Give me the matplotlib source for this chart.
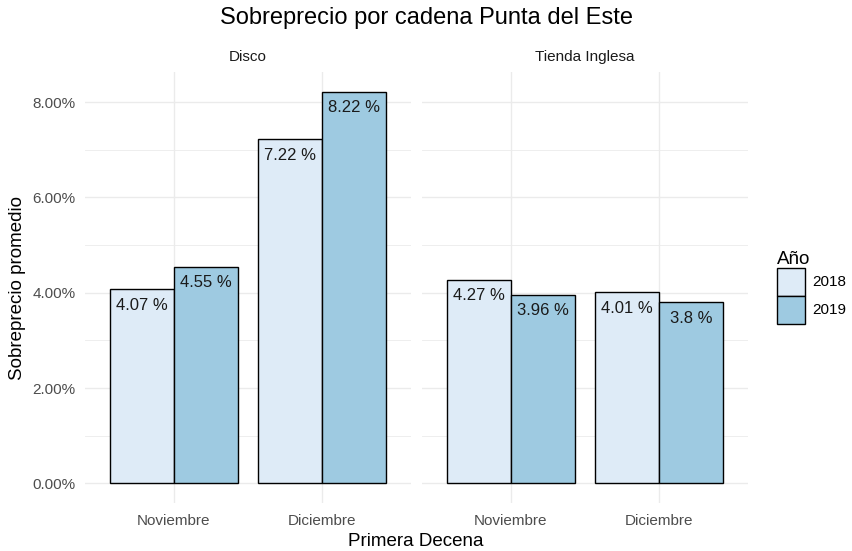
import numpy as np
import matplotlib
matplotlib.use("Agg")
import matplotlib.pyplot as plt
from matplotlib.patches import Patch
from matplotlib.ticker import FuncFormatter, MultipleLocator

plt.rcParams['font.family'] = ['Liberation Sans', 'DejaVu Sans']

# data
cadenas = ["Disco", "Tienda Inglesa"]
decenas = ["Noviembre", "Diciembre"]
anios = ["2018", "2019"]
disco_2018 = [4.07, 7.22]
disco_2019 = [4.55, 8.22]
ti_2018 = [4.27, 4.01]
ti_2019 = [3.96, 3.8]
valores = {"Disco": (disco_2018, disco_2019),
           "Tienda Inglesa": (ti_2018, ti_2019)}
colores = ["#DEEBF7", "#9ECAE1"]

W, H = 853, 551
fig = plt.figure(figsize=(W / 100, H / 100), dpi=100)

def box(x0, y0, x1, y1):
    return [x0 / W, 1 - y1 / H, (x1 - x0) / W, (y1 - y0) / H]

paneles = [box(85, 72, 411, 503), box(422, 72, 748, 503)]
ancho = 0.43
x = np.arange(1, len(decenas) + 1)

for i, cad in enumerate(cadenas):
    ax = fig.add_axes(paneles[i])
    for j, anio in enumerate(anios):
        vals = valores[cad][j]
        pos = x + (j - 0.5) * ancho
        ax.bar(pos, vals, width=ancho, color=colores[j], edgecolor="black",
               linewidth=1.0, zorder=3)
        for p, v in zip(pos, vals):
            ax.annotate(f"{v:g} %", (p, v), xytext=(0, -11.5), textcoords="offset points",
                        ha="center", va="center", fontsize=12, color="#1a1a1a", zorder=4)
    ax.set_xlim(0.4, 2.6)
    ax.set_ylim(-0.411, 8.631)
    ax.set_xticks(x)
    ax.set_xticklabels(decenas)
    ax.yaxis.set_major_locator(MultipleLocator(2))
    ax.yaxis.set_minor_locator(MultipleLocator(1))
    ax.yaxis.set_major_formatter(FuncFormatter(lambda v, _: f"{v:.2f}%"))
    ax.grid(which="major", color="#EBEBEB", linewidth=1.0, zorder=0)
    ax.grid(which="minor", axis="y", color="#EBEBEB", linewidth=0.6, zorder=0)
    ax.tick_params(which="both", length=0, labelsize=11, labelcolor="#4D4D4D")
    ax.tick_params(axis="x", pad=8)
    ax.tick_params(axis="y", pad=7)
    for s in ax.spines.values():
        s.set_visible(False)
    if i > 0:
        ax.tick_params(axis="y", labelleft=False)
    ax.set_title(cad, fontsize=11, color="#1A1A1A", pad=8)

fig.text(0.5, 1 - 18 / H, "Sobreprecio por cadena Punta del Este", ha="center", va="center",
         fontsize=17)
fig.text(416 / W, 1 - 541 / H, "Primera Decena", ha="center", va="center", fontsize=13.5)
fig.text(18 / W, 1 - 288 / H, "Sobreprecio promedio", ha="center", va="center",
         rotation=90, fontsize=13.5)

handles = [Patch(facecolor=c, edgecolor="black", linewidth=1.0) for c in colores]
leg = fig.legend(handles, anios, loc="upper left", bbox_to_anchor=(766 / W, 1 - 240 / H),
                 frameon=False, fontsize=11, title="Año", title_fontsize=13.5,
                 handlelength=1.85, handleheight=2.44, labelspacing=0,
                 handletextpad=0.5, borderpad=0.2, alignment="left")

fig.savefig("out.png", dpi=100)
